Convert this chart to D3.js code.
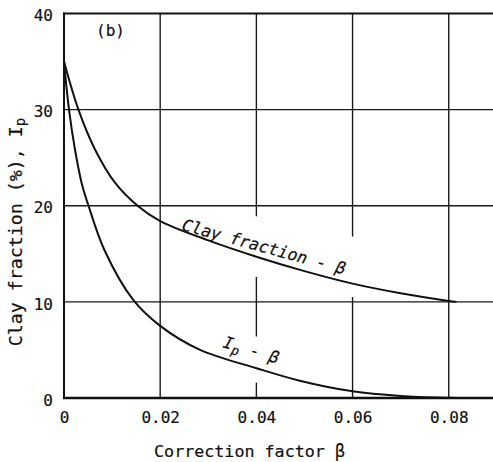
<!DOCTYPE html>
<html>
<head>
<meta charset="utf-8">
<script src="https://cdn.jsdelivr.net/npm/d3@7"></script>
<style>
  html, body { margin: 0; padding: 0; background: #fff; }
  svg { display: block; }
  text { font-family: "DejaVu Sans Mono", "Liberation Mono", monospace; fill: #111; stroke: #111; stroke-width: 0.2px; }
</style>
</head>
<body>
<svg id="chart" width="493" height="462"></svg>
<script>
// Correction factor β versus clay fraction and plasticity index
const xTicks = [0, 0.02, 0.04, 0.06, 0.08];
const xTickLabels = ["0", "0.02", "0.04", "0.06", "0.08"];
const yTicks = [0, 10, 20, 30, 40];
const yTickLabels = ["0", "10", "20", "30", "40"];

// Clay fraction (%) against β
const clayBeta = [0, 0.003, 0.0065, 0.0106, 0.0153, 0.02, 0.03, 0.04, 0.05, 0.06, 0.07, 0.08, 0.0816];
const clayValue = [35, 30, 25.8, 22.4, 20, 18.4, 16.4, 14.7, 13.2, 11.9, 10.9, 10.1, 10.0];

// Plasticity index Ip against β
const ipBeta = [0, 0.00104, 0.0023, 0.0037, 0.0051, 0.0084, 0.0144, 0.02, 0.0283, 0.04, 0.049, 0.06, 0.07, 0.08, 0.082];
const ipValue = [35, 30, 25.8, 22.3, 20, 15.4, 10.2, 7.5, 5.0, 3.1, 1.8, 0.7, 0.22, 0.02, 0];

// Breaks left in vertical grid lines around the curve labels (β, y-from, y-to)
const gridGapX = [0.04, 0.04, 0.06];
const gridGapFrom = [12.6, 1.6, 10.5];
const gridGapTo = [18.9, 6.4, 16.8];

const svg = d3.select("#chart");
const plotLeft = 64, plotRight = 493, plotTop = 13.5, plotBottom = 398;

const x = d3.scaleLinear().domain([0, 0.0892]).range([plotLeft, plotRight]);
const y = d3.scaleLinear().domain([0, 40]).range([plotBottom, plotTop]);

// Horizontal grid lines
svg.append("g")
  .selectAll("line")
  .data(yTicks.filter(v => v > 0 && v < 40))
  .join("line")
  .attr("x1", x(0)).attr("x2", plotRight)
  .attr("y1", d => y(d)).attr("y2", d => y(d))
  .attr("stroke", "#1a1a1a").attr("stroke-width", 1.4);

// Vertical grid lines, split where a label sits
const vSegments = [];
xTicks.filter(v => v > 0).forEach(v => {
  const gaps = gridGapX.map((g, i) => ({ g, a: gridGapFrom[i], b: gridGapTo[i] }))
    .filter(o => o.g === v)
    .sort((p, q) => p.a - q.a);
  let start = 0;
  gaps.forEach(o => { vSegments.push({ v, a: start, b: o.a }); start = o.b; });
  vSegments.push({ v, a: start, b: 40 });
});
svg.append("g")
  .selectAll("line")
  .data(vSegments)
  .join("line")
  .attr("x1", d => x(d.v)).attr("x2", d => x(d.v))
  .attr("y1", d => y(d.a)).attr("y2", d => y(d.b))
  .attr("stroke", "#1a1a1a").attr("stroke-width", 1.4);

// Frame: left, top and bottom
svg.append("line").attr("x1", x(0)).attr("x2", x(0)).attr("y1", y(40) - 1).attr("y2", y(0) + 1)
  .attr("stroke", "#111").attr("stroke-width", 2);
svg.append("line").attr("x1", x(0) - 1).attr("x2", plotRight).attr("y1", y(40)).attr("y2", y(40))
  .attr("stroke", "#111").attr("stroke-width", 2);
svg.append("line").attr("x1", x(0) - 1).attr("x2", plotRight).attr("y1", y(0)).attr("y2", y(0))
  .attr("stroke", "#111").attr("stroke-width", 2.4);

// Axes (labels only)
const xAxis = d3.axisBottom(x).tickValues(xTicks).tickSize(0).tickPadding(14)
  .tickFormat((d, i) => xTickLabels[i]);
const gx = svg.append("g").attr("transform", `translate(0,${plotBottom})`).call(xAxis);
gx.select(".domain").remove();
gx.selectAll("text").attr("font-size", 16).attr("font-family", "DejaVu Sans Mono").attr("fill", "#111");

const yAxis = d3.axisLeft(y).tickValues(yTicks).tickSize(0).tickPadding(11)
  .tickFormat((d, i) => yTickLabels[i]);
const gy = svg.append("g").attr("transform", `translate(${plotLeft},0)`).call(yAxis);
gy.select(".domain").remove();
gy.selectAll("text").attr("font-size", 16).attr("font-family", "DejaVu Sans Mono").attr("fill", "#111")
  .attr("dy", "0.45em");

// Curves
const line = d3.line().x(d => x(d[0])).y(d => y(d[1])).curve(d3.curveCatmullRom.alpha(0.5));
svg.append("path")
  .datum(clayBeta.map((b, i) => [b, clayValue[i]]))
  .attr("d", line).attr("fill", "none").attr("stroke", "#111").attr("stroke-width", 2);
svg.append("path")
  .datum(ipBeta.map((b, i) => [b, ipValue[i]]))
  .attr("d", line).attr("fill", "none").attr("stroke", "#111").attr("stroke-width", 2);

// Panel tag
svg.append("text").attr("x", 96).attr("y", 36).attr("font-size", 16).text("(b)");

// Curve labels
svg.append("text")
  .attr("transform", "translate(181,230) rotate(15.3)")
  .attr("font-size", 16.5).attr("font-style", "italic")
  .text("Clay fraction - β");

const ipLabel = svg.append("text")
  .attr("transform", "translate(222,347) rotate(17)")
  .attr("font-size", 16.5).attr("font-style", "italic");
ipLabel.append("tspan").text("I");
ipLabel.append("tspan").attr("font-size", 13).attr("dy", 4).text("p");
ipLabel.append("tspan").attr("dy", -4).text(" - β");

// Axis titles
svg.append("text")
  .attr("x", 249.5).attr("y", 457)
  .attr("text-anchor", "middle").attr("font-size", 16.7)
  .text("Correction factor β");

const yTitle = svg.append("text")
  .attr("transform", "translate(22,232) rotate(-90)")
  .attr("text-anchor", "middle").attr("font-size", 18.3);
yTitle.append("tspan").text("Clay fraction (%), I");
yTitle.append("tspan").attr("font-size", 14).attr("dy", 3).text("p");
</script>
</body>
</html>
